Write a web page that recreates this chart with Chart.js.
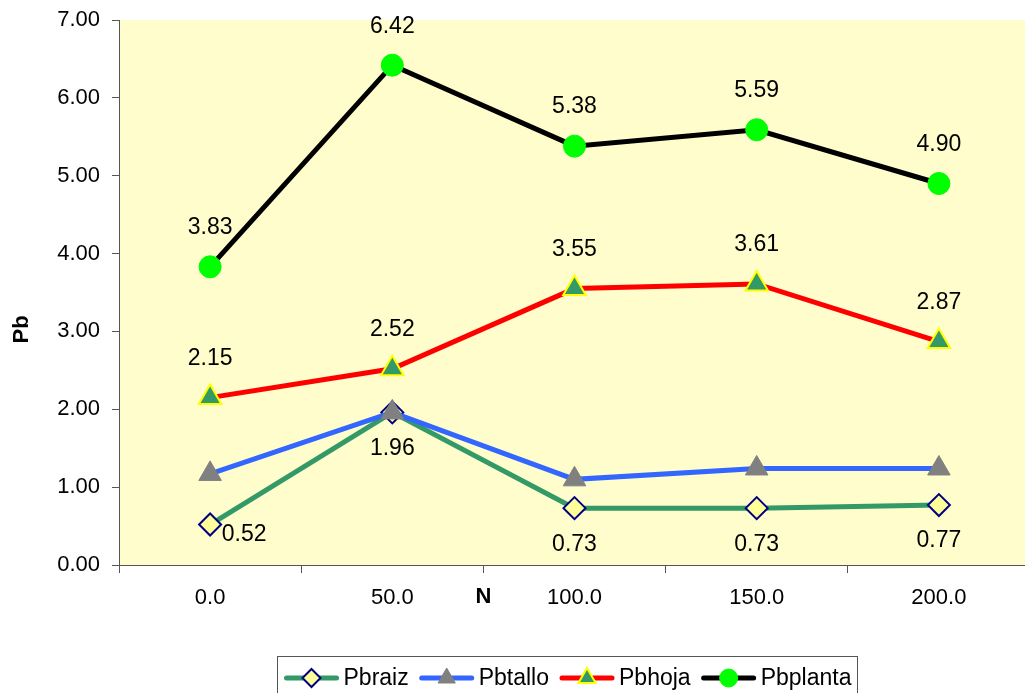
<!DOCTYPE html>
<html>
<head>
<meta charset="utf-8">
<script src="https://cdn.jsdelivr.net/npm/chart.js@4.4.1/dist/chart.umd.min.js"></script>
<style>
  html, body { margin: 0; padding: 0; background: #ffffff; overflow: hidden; }
  #wrap { width: 1025px; height: 693px; overflow: hidden; position: relative; }
  canvas { display: block; }
</style>
</head>
<body>
<div id="wrap"><canvas id="c" width="1045" height="693"></canvas></div>
<script>
// Nitrogen doses (categories) and lead content per plant part
const categories = ['0.0', '50.0', '100.0', '150.0', '200.0'];
const pbRaiz   = [0.52, 1.96, 0.73, 0.73, 0.77];
const pbTallo  = [1.17, 1.96, 1.10, 1.24, 1.24];
const pbHoja   = [2.15, 2.52, 3.55, 3.61, 2.87];
const pbPlanta = [3.83, 6.42, 5.38, 5.59, 4.90];
const seriesNames = ['Pbraiz', 'Pbtallo', 'Pbhoja', 'Pbplanta'];
const yMin = 0, yMax = 7, yStep = 1;
const xTitle = 'N';
const yTitle = 'Pb';

const FONT = '"Liberation Sans", Arial, Helvetica, sans-serif';
const PLOT_BG = '#FFFDCC';
const AXIS_COLOR = '#555555';

const datasets = [
  {
    label: seriesNames[0], data: pbRaiz, order: 4,
    borderColor: '#339966', borderWidth: 5,
    pointStyle: 'rectRot', pointRadius: 11, legendRadius: 9,
    pointBackgroundColor: '#FFFF99', pointBorderColor: '#000080', pointBorderWidth: 2,
    valueLabels: 'below'
  },
  {
    label: seriesNames[1], data: pbTallo, order: 3,
    borderColor: '#3366FF', borderWidth: 5,
    pointStyle: 'triangle', pointRadius: 13, legendRadius: 10,
    pointBackgroundColor: '#808080', pointBorderColor: '#808080', pointBorderWidth: 1,
    valueLabels: null
  },
  {
    label: seriesNames[2], data: pbHoja, order: 2,
    borderColor: '#FF0000', borderWidth: 5,
    pointStyle: 'triangle', pointRadius: 13, legendRadius: 10,
    pointBackgroundColor: '#339966', pointBorderColor: '#FFFF00', pointBorderWidth: 2,
    valueLabels: 'above'
  },
  {
    label: seriesNames[3], data: pbPlanta, order: 1,
    borderColor: '#000000', borderWidth: 5,
    pointStyle: 'circle', pointRadius: 11, legendRadius: 9,
    pointBackgroundColor: '#00FF00', pointBorderColor: '#00FF00', pointBorderWidth: 1,
    valueLabels: 'above'
  }
];
datasets.forEach(d => { d.tension = 0; d.fill = false; d.pointHoverRadius = d.pointRadius; });

// Light yellow plot area
const plotBackground = {
  id: 'plotBackground',
  beforeDraw(chart) {
    const { ctx, chartArea: a } = chart;
    ctx.save();
    ctx.fillStyle = PLOT_BG;
    ctx.fillRect(a.left, a.top, a.right - a.left, a.bottom - a.top);
    ctx.restore();
  }
};

// Value labels above / below the points
const valueLabels = {
  id: 'valueLabels',
  afterDatasetsDraw(chart) {
    const ctx = chart.ctx;
    ctx.save();
    ctx.font = '23px ' + FONT;
    ctx.fillStyle = '#000000';
    ctx.textAlign = 'center';
    ctx.textBaseline = 'middle';
    chart.data.datasets.forEach((ds, di) => {
      if (!ds.valueLabels) return;
      const meta = chart.getDatasetMeta(di);
      meta.data.forEach((pt, i) => {
        const txt = ds.data[i].toFixed(2);
        let x = pt.x, y = pt.y;
        if (ds.valueLabels === 'above') {
          y -= 39;
        } else if (i === 0) {
          x += 34; y += 10;
        } else {
          y += 36;
        }
        ctx.fillText(txt, x, y);
      });
    });
    ctx.restore();
  }
};

// Axis titles and framed legend
const titlesAndLegend = {
  id: 'titlesAndLegend',
  afterDraw(chart) {
    const ctx = chart.ctx;
    const xs = chart.scales.x, ys = chart.scales.y;
    ctx.save();
    ctx.fillStyle = '#000000';
    ctx.font = 'bold 22px ' + FONT;
    ctx.textAlign = 'center';
    ctx.textBaseline = 'middle';
    const nx = (xs.getPixelForValue(1) + xs.getPixelForValue(2)) / 2;
    ctx.fillText(xTitle, nx, 597);
    ctx.save();
    ctx.translate(22, ys.getPixelForValue(3) - 2);
    ctx.rotate(-Math.PI / 2);
    ctx.fillText(yTitle, 0, 0);
    ctx.restore();

    // legend
    ctx.font = '23px ' + FONT;
    const lineLen = 56, gapText = 4, gapItem = 10, padL = 6, padR = 6;
    const widths = chart.data.datasets.map(d => ctx.measureText(d.label).width);
    let total = padL + padR;
    widths.forEach((w, i) => { total += lineLen + gapText + w + (i < widths.length - 1 ? gapItem : 0); });
    const cx = 567;
    const boxL = Math.round(cx - total / 2) + 0.5;
    const boxT = 656.5;
    ctx.strokeStyle = '#555555';
    ctx.lineWidth = 1;
    ctx.strokeRect(boxL, boxT, Math.round(total), 60);
    const ly = 678;
    let x = boxL + padL;
    chart.data.datasets.forEach((d, i) => {
      ctx.strokeStyle = d.borderColor;
      ctx.lineWidth = 5;
      ctx.lineCap = 'round';
      ctx.beginPath();
      ctx.moveTo(x + 3, ly);
      ctx.lineTo(x + lineLen - 3, ly);
      ctx.stroke();
      ctx.lineCap = 'butt';
      ctx.fillStyle = d.pointBackgroundColor;
      ctx.strokeStyle = d.pointBorderColor;
      ctx.lineWidth = d.pointBorderWidth;
      Chart.helpers.drawPoint(ctx, {
        pointStyle: d.pointStyle,
        radius: d.legendRadius,
        borderWidth: d.pointBorderWidth,
        rotation: 0
      }, x + lineLen / 2, ly);
      ctx.fillStyle = '#000000';
      ctx.textAlign = 'left';
      ctx.fillText(d.label, x + lineLen + gapText, ly + 1);
      x += lineLen + gapText + widths[i] + gapItem;
    });
    ctx.restore();
  }
};

new Chart(document.getElementById('c'), {
  type: 'line',
  data: { labels: categories, datasets },
  options: {
    responsive: false,
    animation: false,
    layout: { padding: { top: 20, right: 14, left: 0, bottom: 0 } },
    plugins: { legend: { display: false }, tooltip: { enabled: false } },
    scales: {
      x: {
        offset: true,
        afterFit(scale) { scale.height = 128; },
        grid: {
          offset: true, drawOnChartArea: false, drawTicks: true,
          tickLength: 8, color: AXIS_COLOR, lineWidth: 1
        },
        border: { display: true, color: AXIS_COLOR, width: 1 },
        ticks: { color: '#000000', font: { family: FONT, size: 22 }, padding: 12, maxRotation: 0 }
      },
      y: {
        min: yMin, max: yMax,
        afterFit(scale) {
          scale.width = 119;
          scale.paddingTop = 0;
          scale.paddingBottom = 0;
        },
        grid: {
          drawOnChartArea: false, drawTicks: true,
          tickLength: 7, color: AXIS_COLOR, lineWidth: 1
        },
        border: { display: true, color: AXIS_COLOR, width: 1 },
        ticks: {
          stepSize: yStep, color: '#000000', padding: 12,
          font: { family: FONT, size: 22 },
          callback: v => Number(v).toFixed(2)
        }
      }
    }
  },
  plugins: [plotBackground, valueLabels, titlesAndLegend]
});
</script>
</body>
</html>
